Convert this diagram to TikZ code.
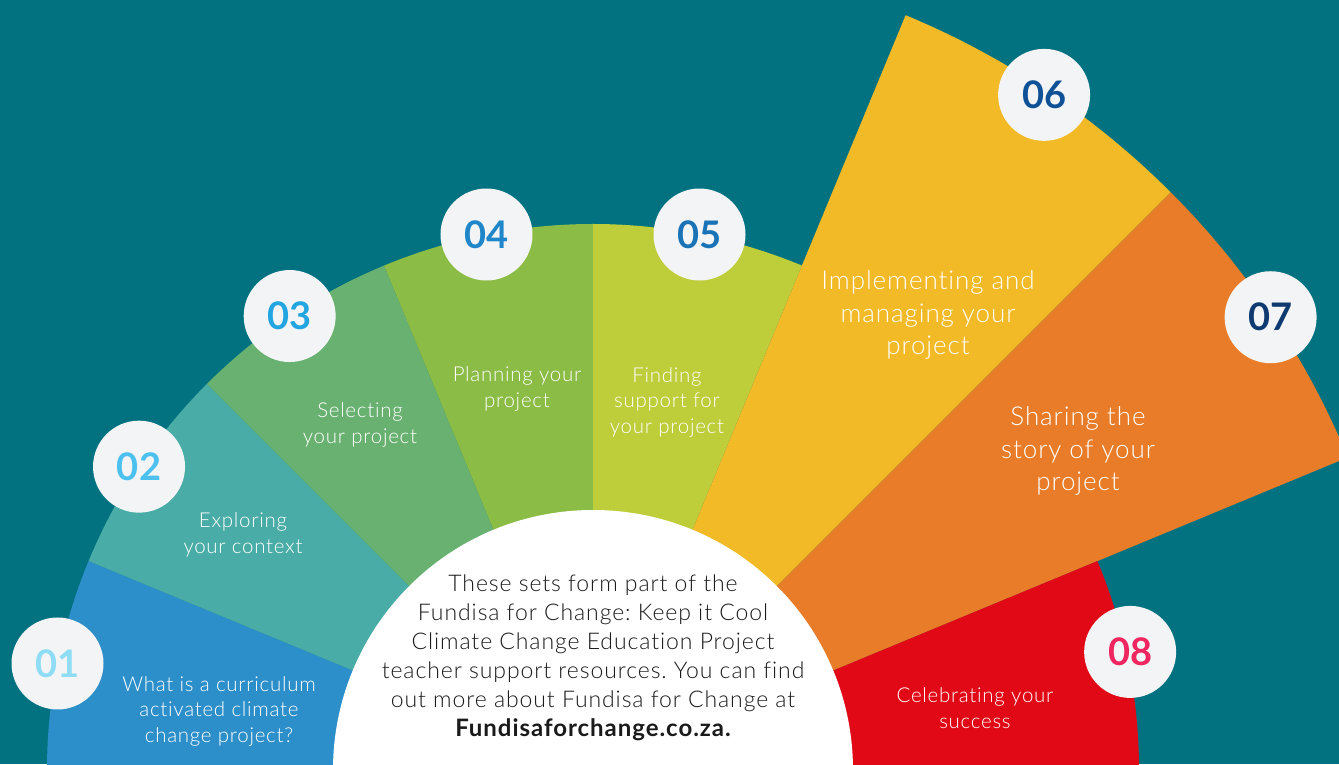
\documentclass[tikz,border=0pt]{standalone}
\usepackage{fontspec}
\usetikzlibrary{calc}
\setmainfont{Lato}
\newfontfamily\labfont{Lato Light}[LetterSpace=3.5, Ligatures={NoCommon,NoRare}]
\newfontfamily\notefont{Lato Light}[LetterSpace=4, Ligatures={NoCommon,NoRare}]
\newfontfamily\linkfont{Lato Bold}[LetterSpace=4, Ligatures={NoCommon,NoRare}]
\frenchspacing
\definecolor{bgteal}{HTML}{027281}
\definecolor{cA}{HTML}{2D8FCA}
\definecolor{cB}{HTML}{4AACA6}
\definecolor{cC}{HTML}{69B171}
\definecolor{cD}{HTML}{8BBC46}
\definecolor{cE}{HTML}{BECD3A}
\definecolor{cF}{HTML}{F2BA27}
\definecolor{cG}{HTML}{E87C28}
\definecolor{cH}{HTML}{E20917}
\definecolor{disc}{HTML}{F3F4F6}
\definecolor{nA}{HTML}{8EDDF5}
\definecolor{nB}{HTML}{4CC0EE}
\definecolor{nC}{HTML}{22A5E0}
\definecolor{nD}{HTML}{1F87C9}
\definecolor{nE}{HTML}{1A73B6}
\definecolor{nF}{HTML}{0F5197}
\definecolor{nG}{HTML}{0E3A70}
\definecolor{nH}{HTML}{EF2660}
\definecolor{ink}{HTML}{1A1A1A}
\tikzset{
  numdisc/.style={circle, fill=disc, minimum size=92pt, inner sep=0pt,
    font=\fontsize{38}{38}\selectfont\bfseries},
  smalllab/.style={text=white, align=center, font=\labfont\fontsize{20.5}{25.5}\selectfont},
  biglab/.style={text=white, align=center, font=\labfont\fontsize{26}{32.5}\selectfont},
}
\begin{document}
\begin{tikzpicture}[x=1pt,y=1pt]
  \fill[bgteal] (0,0) rectangle (1339,764);
  \useasboundingbox (0,0) rectangle (1339,764);
  \coordinate (C) at (593,-6);
  \begin{scope}
    \clip (0,0) rectangle (1339,764);
    % fan of eight sectors, 22.5 degrees each
    \foreach \a/\r/\c in {157.5/546/cA, 135/546/cB, 112.5/546/cC, 90/546/cD,
                          67.5/546/cE, 45/817/cF, 22.5/817/cG, 0/546/cH}{
      \pgfmathsetmacro{\b}{\a+22.5}
      \fill[\c] (C) -- ++(\a:\r) arc[start angle=\a, end angle=\b, radius=\r] -- cycle;
    }
    % central white half disc
    \fill[white] (C) circle[radius=260];
  \end{scope}

  % numbered discs on the outer rims
  \node[numdisc, text=nA] (n1) at ($(C)+(168.75:546)$) {01};
  \node[numdisc, text=nB] (n2) at ($(C)+(146.25:546)$) {02};
  \node[numdisc, text=nC] (n3) at ($(C)+(123.75:546)$) {03};
  \node[numdisc, text=nD] (n4) at ($(C)+(101.25:546)$) {04};
  \node[numdisc, text=nE] (n5) at ($(C)+(78.75:546)$) {05};
  \node[numdisc, text=nF] (n6) at ($(C)+(56.25:812)$) {06};
  \node[numdisc, text=nG] (n7) at ($(C)+(33.75:815)$) {07};
  \node[numdisc, text=nH] (n8) at ($(C)+(12.4:550)$) {08};

  % step captions
  \node[smalllab] (t1) at (219,53) {What is a curriculum\\activated climate\\change project?};
  \node[smalllab] (t2) at (243,229) {Exploring\\your context};
  \node[smalllab] (t3) at (360,339) {Selecting\\your project};
  \node[smalllab] (t4) at (517,375) {Planning your\\project};
  \node[smalllab] (t5) at (667,362) {Finding\\support for\\your project};
  \node[biglab] (t6) at (928,449) {Implementing and\\managing your\\project};
  \node[biglab] (t7) at (1078,313) {Sharing the\\story of your\\project};
  \node[smalllab] (t8) at (975,56) {Celebrating your\\success};

  % centre note
  \node[text=ink, align=center, font=\notefont\fontsize{23}{29}\selectfont] (note) at (593,106)
    {These sets form part of the\\Fundisa for Change: Keep it Cool\\Climate Change Education Project\\teacher support resources. You can find\\out more about Fundisa for Change at\\{\linkfont\fontsize{24}{29}\selectfont Fundisaforchange.co.za.}};
\end{tikzpicture}
\end{document}
